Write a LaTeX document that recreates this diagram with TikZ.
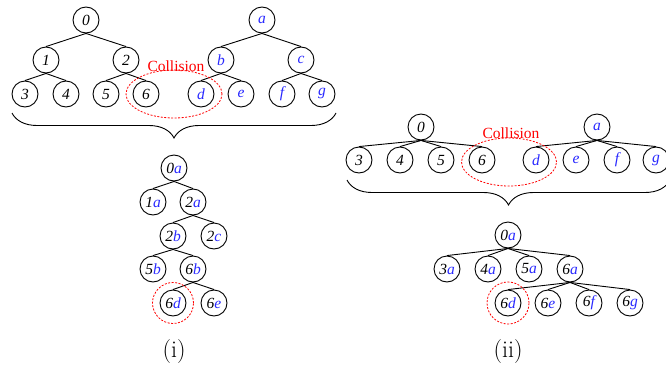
\documentclass[tikz,border=0pt]{standalone}
\usepackage{fontspec}
\newfontfamily\tnr{Liberation Serif}
\usetikzlibrary{decorations.pathreplacing,shapes.geometric}
\definecolor{bl}{RGB}{40,40,255}
\newcommand{\B}[1]{\textcolor{bl}{#1}}
\begin{document}
\begin{tikzpicture}[x=1pt,y=-1pt,
  tn/.style={circle,draw,line width=0.9pt,minimum size=26pt,inner sep=0pt,font=\tnr\fontsize{15.5}{15.5}\selectfont\itshape},
  bn/.style={tn,text=bl},
  ed/.style={line width=0.9pt},
  coll/.style={draw=red,dash pattern=on 2pt off 1.5pt,line width=0.8pt},
  lab/.style={text=red,inner sep=0pt,font=\tnr\fontsize{15.5}{16}\selectfont},
  captext/.style={inner sep=0pt,font=\fontsize{24}{24}\selectfont},
  br/.style={decorate,decoration={brace,mirror,amplitude=25pt},line width=0.9pt}]
\useasboundingbox (0,0) rectangle (666,372);

% ---------- panel (i), top ----------
\node[tn] (i0) at (86,20) {0};
\node[tn] (i1) at (46,60) {1};
\node[tn] (i2) at (126,60) {2};
\node[tn] (i3) at (25,94) {3};
\node[tn] (i4) at (66,94) {4};
\node[tn] (i5) at (106,94) {5};
\node[tn] (i6) at (146,94) {6};
\node[bn] (ia) at (262,20) {a};
\node[bn] (ib) at (221,60) {b};
\node[bn] (ic) at (301,60) {c};
\node[bn] (id) at (201,94) {d};
\node[bn] (ie) at (241,94) {e};
\node[bn] (if) at (282,94) {f};
\node[bn] (ig) at (322,94) {g};
\foreach \p/\c in {i0/i1,i0/i2,i1/i3,i1/i4,i2/i5,i2/i6,ia/ib,ia/ic,ib/id,ib/ie,ic/if,ic/ig}
  \draw[ed] (\p.south) -- (\c.north);
\node[coll,ellipse,minimum width=96pt,minimum height=48pt] (ce1) at (174,94) {};
\node[lab] (cl1) at (176,66) {Collision};
\coordinate (bl1) at (12,113);
\coordinate (br1) at (336,113);
\draw[br] (bl1) -- (br1);

% ---------- panel (i), bottom ----------
\node[tn] (j0a) at (174,168) {0\B{a}};
\node[tn] (j1a) at (153,202) {1\B{a}};
\node[tn] (j2a) at (193,202) {2\B{a}};
\node[tn] (j2b) at (173,236) {2\B{b}};
\node[tn] (j2c) at (214,236) {2\B{c}};
\node[tn] (j5b) at (153,269) {5\B{b}};
\node[tn] (j6b) at (193,269) {6\B{b}};
\node[tn] (j6d) at (173,303) {6\B{d}};
\node[tn] (j6e) at (214,303) {6\B{e}};
\foreach \p/\c in {j0a/j1a,j0a/j2a,j2a/j2b,j2a/j2c,j2b/j5b,j2b/j6b,j6b/j6d,j6b/j6e}
  \draw[ed] (\p.south) -- (\c.north);
\node[coll,circle,minimum size=41pt] (cc1) at (j6d) {};
\node[captext] (capi) at (174,352) {(i)};

% ---------- panel (ii), top ----------
\node[tn] (k0) at (421,127) {0};
\node[tn] (k3) at (359,160) {3};
\node[tn] (k4) at (400,160) {4};
\node[tn] (k5) at (441,160) {5};
\node[tn] (k6) at (482,160) {6};
\node[bn] (ka) at (597,127) {a};
\node[bn] (kd) at (536,160) {d};
\node[bn] (ke) at (576,160) {e};
\node[bn] (kf) at (617,160) {f};
\node[bn] (kg) at (656,160) {g};
\foreach \p/\c in {k0/k3,k0/k4,k0/k5,k0/k6,ka/kd,ka/ke,ka/kf,ka/kg}
  \draw[ed] (\p.south) -- (\c.north);
\node[coll,ellipse,minimum width=95pt,minimum height=48pt] (ce2) at (509,162) {};
\node[lab] (cl2) at (511,133) {Collision};
\coordinate (bl2) at (347,180);
\coordinate (br2) at (670,180);
\draw[br] (bl2) -- (br2);

% ---------- panel (ii), bottom ----------
\node[tn] (m0a) at (508,235) {0\B{a}};
\node[tn] (m3a) at (447,269) {3\B{a}};
\node[tn] (m4a) at (488,269) {4\B{a}};
\node[tn] (m5a) at (529,269) {5\B{a}};
\node[tn] (m6a) at (570,269) {6\B{a}};
\node[tn] (m6d) at (508,303) {6\B{d}};
\node[tn] (m6e) at (548,303) {6\B{e}};
\node[tn] (m6f) at (589,303) {6\B{f}};
\node[tn] (m6g) at (630,303) {6\B{g}};
\foreach \p/\c in {m0a/m3a,m0a/m4a,m0a/m5a,m0a/m6a,m6a/m6d,m6a/m6e,m6a/m6f,m6a/m6g}
  \draw[ed] (\p.south) -- (\c.north);
\node[coll,circle,minimum size=42pt] (cc2) at (m6d) {};
\node[captext] (capii) at (508,352) {(ii)};
\end{tikzpicture}
\end{document}
